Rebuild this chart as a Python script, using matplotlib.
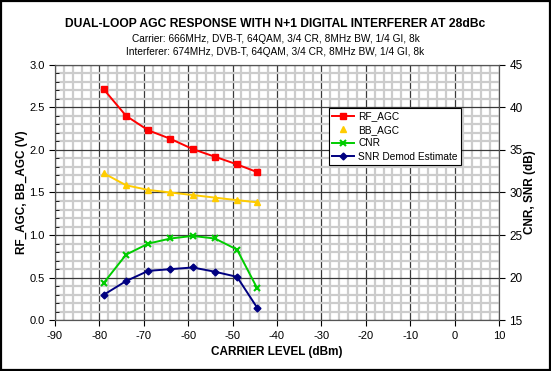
import numpy as np
import matplotlib.pyplot as plt
from matplotlib.lines import Line2D
from matplotlib.ticker import MultipleLocator

plt.rcParams['font.family'] = ['Liberation Sans', 'DejaVu Sans']
plt.rcParams['axes.unicode_minus'] = False

# data
carrier = [-79, -74, -69, -64, -59, -54, -49, -44.5]
rf_agc = [2.71, 2.40, 2.23, 2.13, 2.01, 1.92, 1.83, 1.74]
bb_agc = [1.725, 1.585, 1.53, 1.50, 1.47, 1.44, 1.41, 1.385]
cnr = [19.4, 22.7, 24.0, 24.6, 24.9, 24.6, 23.3, 18.8]
snr = [18.0, 19.6, 20.8, 21.0, 21.2, 20.7, 20.1, 16.5]

fig = plt.figure(figsize=(5.51, 3.71), dpi=100)
ax = fig.add_axes([0.0998, 0.1367, 0.8058, 0.6889])
ax2 = ax.twinx()

ax.set_xlim(-90, 10)
ax.set_ylim(0, 3.0)
ax2.set_ylim(15, 45)

ax.xaxis.set_major_locator(MultipleLocator(10))
ax.xaxis.set_minor_locator(MultipleLocator(2))
ax.yaxis.set_major_locator(MultipleLocator(0.5))
ax.yaxis.set_minor_locator(MultipleLocator(0.1))
ax2.yaxis.set_major_locator(MultipleLocator(5))

ax.grid(which='minor', color='#cccccc', lw=1.6)
ax.grid(which='major', color='#3a3a3a', lw=0.9)
ax.set_axisbelow(True)

l1, = ax.plot(carrier, rf_agc, color='#ff0000', marker='s', ms=5, lw=1.4)
l2, = ax.plot(carrier, bb_agc, color='#ffcc00', marker='^', ms=5, lw=1.4)
l3, = ax2.plot(carrier, cnr, color='#00cc00', marker='x', ms=5, mew=1.5, lw=1.4)
l4, = ax2.plot(carrier, snr, color='#000080', marker='D', ms=3.5, lw=1.4)

ax.yaxis.set_major_formatter(plt.FuncFormatter(lambda v, p: '%.1f' % v))
ax.tick_params(axis='both', which='major', labelsize=8, length=4, direction='out', width=0.8)
ax.tick_params(axis='x', which='minor', length=0)
ax.tick_params(axis='y', which='minor', length=3, direction='in', width=0.6)
ax2.tick_params(axis='y', labelsize=8.5, length=4, direction='out', width=0.8)
for a in (ax, ax2):
    for s in a.spines.values():
        s.set_color('#555555')
        s.set_linewidth(0.8)

ax.set_xlabel('CARRIER LEVEL (dBm)', fontsize=8.5, fontweight='bold', labelpad=4)
ax.set_ylabel('RF_AGC, BB_AGC (V)', fontsize=8.5, fontweight='bold')
ax2.set_ylabel('CNR, SNR (dB)', fontsize=8.5, fontweight='bold', labelpad=1)
ax.yaxis.set_label_coords(-0.06, 0.5)

fig.text(0.5, 0.934, 'DUAL-LOOP AGC RESPONSE WITH N+1 DIGITAL INTERFERER AT 28dBc',
         ha='center', va='center', fontsize=8.7, fontweight='bold')
fig.text(0.5, 0.896, 'Carrier: 666MHz, DVB-T, 64QAM, 3/4 CR, 8MHz BW, 1/4 GI, 8k',
         ha='center', va='center', fontsize=7.3)
fig.text(0.5, 0.859, 'Interferer: 674MHz, DVB-T, 64QAM, 3/4 CR, 8MHz BW, 1/4 GI, 8k',
         ha='center', va='center', fontsize=7.3)

handles = [l1, Line2D([], [], color='#ffcc00', marker='^', ms=5, ls='none'), l3, l4]
labels = ['RF_AGC', 'BB_AGC', 'CNR', 'SNR Demod Estimate']
leg = ax2.legend(handles, labels, loc='upper left', bbox_to_anchor=(0.617, 0.83),
                 fontsize=7.3, frameon=True, fancybox=False, framealpha=1,
                 edgecolor='black', handlelength=2.2, borderpad=0.3,
                 labelspacing=0.35, handletextpad=0.4, borderaxespad=0)
leg.get_frame().set_linewidth(0.8)

fig.patches.append(plt.Rectangle((0.002, 0.003), 0.996, 0.994, transform=fig.transFigure,
                                 fill=False, ec='black', lw=1.6))

fig.savefig('out.png', dpi=100)
